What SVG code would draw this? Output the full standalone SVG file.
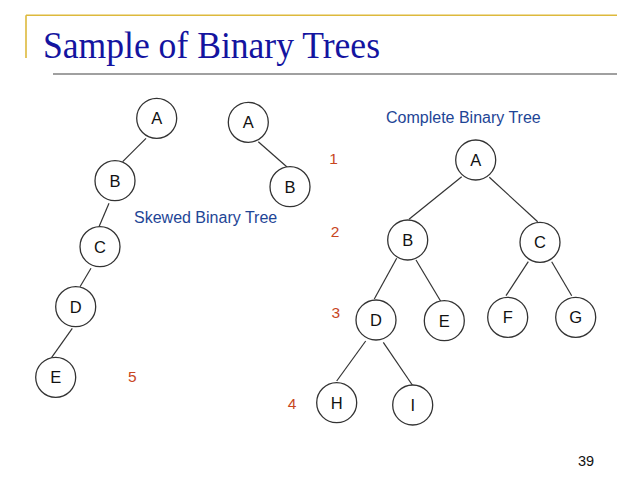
<svg xmlns="http://www.w3.org/2000/svg" width="638" height="478" viewBox="0 0 638 478">
<style>
.n circle{fill:#fff;stroke:#333;stroke-width:1.3}
.n text{font-family:"Liberation Sans",Arial,sans-serif;font-size:16.5px;fill:#111;text-anchor:middle}
.e line{stroke:#333;stroke-width:1.2}
.lvl{font-family:"Liberation Sans",Arial,sans-serif;font-size:15.5px;fill:#C8461E;text-anchor:middle}
.cap{font-family:"Liberation Sans",Arial,sans-serif;font-size:16px;fill:#1E4596}
</style>
<rect width="638" height="478" fill="#fff"/>
<g id="frame">
<line x1="26" y1="15.3" x2="617" y2="15.3" stroke="#DDB93C" stroke-width="1.6"/>
<line x1="26" y1="15.3" x2="26" y2="58" stroke="#DDB93C" stroke-width="1.6"/>
<line x1="53" y1="74" x2="617" y2="74" stroke="#808080" stroke-width="1.4"/>
<text x="43" y="58.3" font-family="'Liberation Serif','Times New Roman',serif" font-size="37" fill="#1414A0" textLength="337" lengthAdjust="spacingAndGlyphs">Sample of Binary Trees</text>
</g>
<g id="connectors" class="e">
<line x1="146" y1="138.3" x2="122.7" y2="161.7"/>
<line x1="109" y1="203.3" x2="99" y2="226.7"/>
<line x1="91" y1="268.3" x2="80" y2="286.7"/>
<line x1="72.3" y1="328.3" x2="51" y2="358.3"/>
<line x1="258.3" y1="141.7" x2="287.3" y2="167.3"/>
<line x1="461.7" y1="176.7" x2="409" y2="219.3"/>
<line x1="489.3" y1="177.3" x2="537.7" y2="221.7"/>
<line x1="396.7" y1="258.3" x2="374.3" y2="299"/>
<line x1="416" y1="260" x2="441" y2="301.7"/>
<line x1="528.3" y1="261.7" x2="506" y2="295.7"/>
<line x1="551.7" y1="261.7" x2="571.7" y2="295.7"/>
<line x1="365.7" y1="341" x2="336.7" y2="381"/>
<line x1="383.3" y1="342.3" x2="412.3" y2="385"/>
</g>
<g id="s1A" class="n"><circle cx="156.7" cy="118.3" r="20"/><text x="156.7" y="124.3">A</text></g>
<g id="s1B" class="n"><circle cx="115" cy="180.7" r="20"/><text x="115" y="186.7">B</text></g>
<g id="s1C" class="n"><circle cx="100" cy="246.7" r="20"/><text x="100" y="252.7">C</text></g>
<g id="s1D" class="n"><circle cx="75.7" cy="306.7" r="20"/><text x="75.7" y="312.7">D</text></g>
<g id="s1E" class="n"><circle cx="55.7" cy="377.3" r="20"/><text x="55.7" y="383.3">E</text></g>
<g id="s2A" class="n"><circle cx="248.3" cy="122.3" r="20"/><text x="248.3" y="128.3">A</text></g>
<g id="s2B" class="n"><circle cx="290" cy="186.7" r="20"/><text x="290" y="192.7">B</text></g>
<g id="cA" class="n"><circle cx="475.7" cy="160" r="20"/><text x="475.7" y="166">A</text></g>
<g id="cB" class="n"><circle cx="407.7" cy="240" r="20"/><text x="407.7" y="246">B</text></g>
<g id="cC" class="n"><circle cx="540" cy="242.3" r="20"/><text x="540" y="248.3">C</text></g>
<g id="cD" class="n"><circle cx="376" cy="320" r="20"/><text x="376" y="326">D</text></g>
<g id="cE" class="n"><circle cx="444.3" cy="320.7" r="20"/><text x="444.3" y="326.7">E</text></g>
<g id="cF" class="n"><circle cx="507.7" cy="317.3" r="20"/><text x="507.7" y="323.3">F</text></g>
<g id="cG" class="n"><circle cx="575.7" cy="317.3" r="20"/><text x="575.7" y="323.3">G</text></g>
<g id="cH" class="n"><circle cx="336.7" cy="402.7" r="20"/><text x="336.7" y="408.7">H</text></g>
<g id="cI" class="n"><circle cx="412.7" cy="405" r="20"/><text x="412.7" y="411">I</text></g>
<g id="labels">
<text class="cap" x="134" y="222.7">Skewed Binary Tree</text>
<text class="cap" x="386" y="123.3">Complete Binary Tree</text>
<text class="lvl" x="333.5" y="164">1</text>
<text class="lvl" x="335" y="236.7">2</text>
<text class="lvl" x="335.7" y="318.3">3</text>
<text class="lvl" x="292" y="409.3">4</text>
<text class="lvl" x="132.3" y="381.7">5</text>
<text x="586" y="466" font-family="'Liberation Sans',Arial,sans-serif" font-size="14.5" fill="#111" text-anchor="middle">39</text>
</g>
</svg>
